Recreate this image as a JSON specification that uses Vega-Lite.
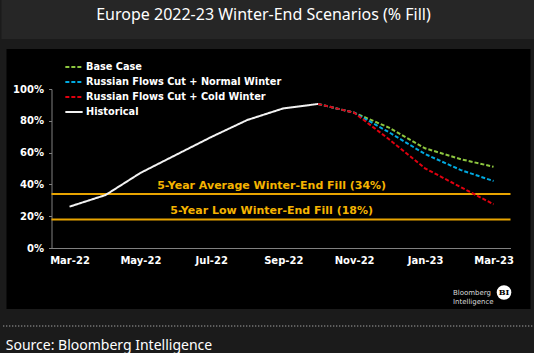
{
  "$schema": "https://vega.github.io/schema/vega-lite/v6.json",
  "background": "#1b1b1b",
  "padding": 0,
  "spacing": 10,
  "center": true,
  "config": {"view": {"stroke": null}, "font": "DejaVu Sans"},
  "title": {"text": "Source: Bloomberg Intelligence", "orient": "bottom", "anchor": "start", "frame": "bounds", "dx": 5, "offset": 10, "font": "Noto Sans", "fontSize": 14, "fontWeight": "normal", "color": "#ffffff"},
  "vconcat": [
    {
      "width": 534, "height": 39,
      "view": {"fill": "#262626", "stroke": null},
      "data": {"values": [{"t": "Europe 2022-23 Winter-End Scenarios (% Fill)"}]},
      "mark": {"type": "text", "font": "Noto Sans", "fontSize": 16, "color": "#ffffff", "baseline": "middle", "align": "center", "dx": -5, "dy": -4.5},
      "encoding": {"text": {"field": "t"}}
    },
    {
      "width": 524, "height": 260,
      "view": {"fill": "#000000", "stroke": null},
      "layer": [
        {
          "data": {"values": [
            {"name": "5-Year Average Winter-End Fill (34%)", "value": 34},
            {"name": "5-Year Low Winter-End Fill (18%)", "value": 18}
          ]},
          "mark": {"type": "rule", "color": "#E8A400", "strokeWidth": 2},
          "encoding": {
            "x": {"datum": {"year": 2022, "month": 2, "date": 13, "hours": 12}, "type": "temporal"},
            "x2": {"datum": {"year": 2023, "month": 3, "date": 15, "hours": 14}},
            "y": {"field": "value", "type": "quantitative"}
          }
        },
        {
          "data": {"values": [
            {"name": "5-Year Average Winter-End Fill (34%)", "value": 34},
            {"name": "5-Year Low Winter-End Fill (18%)", "value": 18}
          ]},
          "mark": {"type": "text", "color": "#F5B400", "fontSize": 11, "fontWeight": "bold", "font": "DejaVu Sans", "baseline": "alphabetic", "align": "center", "dy": -5},
          "encoding": {
            "x": {"datum": {"year": 2022, "month": 8, "date": 22}, "type": "temporal"},
            "y": {"field": "value", "type": "quantitative"},
            "text": {"field": "name"}
          }
        },
        {
          "data": {"values": [
            {"date": "2022-03-01T00:00:00", "value": 26, "series": "Historical"},
            {"date": "2022-04-01T00:00:00", "value": 33.3, "series": "Historical"},
            {"date": "2022-05-01T00:00:00", "value": 47.2, "series": "Historical"},
            {"date": "2022-06-01T00:00:00", "value": 58.7, "series": "Historical"},
            {"date": "2022-07-01T00:00:00", "value": 69.8, "series": "Historical"},
            {"date": "2022-08-01T00:00:00", "value": 80.5, "series": "Historical"},
            {"date": "2022-09-01T00:00:00", "value": 87.8, "series": "Historical"},
            {"date": "2022-10-01T00:00:00", "value": 90.6, "series": "Historical"},
            {"date": "2022-10-01T00:00:00", "value": 90.6, "series": "Base Case"},
            {"date": "2022-11-01T00:00:00", "value": 85.1, "series": "Base Case"},
            {"date": "2022-12-01T00:00:00", "value": 75.7, "series": "Base Case"},
            {"date": "2023-01-01T00:00:00", "value": 62.7, "series": "Base Case"},
            {"date": "2023-02-01T00:00:00", "value": 55.8, "series": "Base Case"},
            {"date": "2023-03-01T00:00:00", "value": 51.1, "series": "Base Case"},
            {"date": "2022-10-01T00:00:00", "value": 90.6, "series": "Russian Flows Cut + Normal Winter"},
            {"date": "2022-11-01T00:00:00", "value": 85.1, "series": "Russian Flows Cut + Normal Winter"},
            {"date": "2022-12-01T00:00:00", "value": 72.8, "series": "Russian Flows Cut + Normal Winter"},
            {"date": "2023-01-01T00:00:00", "value": 59.1, "series": "Russian Flows Cut + Normal Winter"},
            {"date": "2023-02-01T00:00:00", "value": 49.0, "series": "Russian Flows Cut + Normal Winter"},
            {"date": "2023-03-01T00:00:00", "value": 42.1, "series": "Russian Flows Cut + Normal Winter"},
            {"date": "2022-10-01T00:00:00", "value": 90.6, "series": "Russian Flows Cut + Cold Winter"},
            {"date": "2022-11-01T00:00:00", "value": 85.1, "series": "Russian Flows Cut + Cold Winter"},
            {"date": "2022-12-01T00:00:00", "value": 68.4, "series": "Russian Flows Cut + Cold Winter"},
            {"date": "2023-01-01T00:00:00", "value": 50.1, "series": "Russian Flows Cut + Cold Winter"},
            {"date": "2023-02-01T00:00:00", "value": 38.2, "series": "Russian Flows Cut + Cold Winter"},
            {"date": "2023-03-01T00:00:00", "value": 27.5, "series": "Russian Flows Cut + Cold Winter"}
          ]},
          "mark": {"type": "line", "strokeWidth": 2},
          "encoding": {
            "x": {
              "field": "date", "type": "temporal",
              "scale": {"domain": [{"year": 2022, "month": 2, "date": 13, "hours": 12}, {"year": 2023, "month": 3, "date": 15, "hours": 14}], "range": [45, 504]},
              "axis": {
                "values": [
                  {"year": 2022, "month": 3, "date": 1},
                  {"year": 2022, "month": 5, "date": 1},
                  {"year": 2022, "month": 7, "date": 1},
                  {"year": 2022, "month": 9, "date": 1},
                  {"year": 2022, "month": 11, "date": 1},
                  {"year": 2023, "month": 1, "date": 1},
                  {"year": 2023, "month": 3, "date": 1}
                ],
                "format": "%b-%y", "title": null, "grid": false, "ticks": false,
                "offset": -61, "labelPadding": 7,
                "labelColor": "#ffffff", "labelFont": "DejaVu Sans", "labelFontWeight": "bold", "labelFontSize": 10,
                "domainColor": "#808080", "domainWidth": 1, "labelOverlap": false
              }
            },
            "y": {
              "field": "value", "type": "quantitative",
              "scale": {"domain": [0, 100], "range": [199, 40], "nice": false, "zero": false},
              "axis": {
                "values": [0, 20, 40, 60, 80, 100],
                "labelExpr": "datum.value + '%'",
                "title": null, "grid": false, "tickSize": 3, "tickColor": "#808080",
                "offset": -45, "labelPadding": 5,
                "labelColor": "#ffffff", "labelFont": "DejaVu Sans", "labelFontWeight": "bold", "labelFontSize": 10,
                "domainColor": "#808080", "domainWidth": 1
              }
            },
            "color": {
              "field": "series", "type": "nominal",
              "scale": {"domain": ["Base Case", "Russian Flows Cut + Normal Winter", "Russian Flows Cut + Cold Winter", "Historical"], "range": ["#8DC63F", "#00A9E0", "#E0000F", "#F2F2F2"]},
              "legend": {"orient": "none", "legendX": 63, "legendY": 57, "title": null, "symbolType": "stroke", "symbolSize": 300, "symbolStrokeWidth": 2, "labelColor": "#ffffff", "labelFont": "DejaVu Sans", "labelFontWeight": "bold", "labelFontSize": 9.75, "labelOffset": 2, "labelLimit": 400, "rowPadding": -0.3, "padding": 0}
            },
            "strokeDash": {
              "field": "series", "type": "nominal",
              "scale": {"domain": ["Base Case", "Russian Flows Cut + Normal Winter", "Russian Flows Cut + Cold Winter", "Historical"], "range": [[4, 2], [4, 2], [4, 2], [1, 0]]},
              "legend": {"orient": "none", "legendX": 63, "legendY": 57, "title": null, "symbolType": "stroke", "symbolSize": 300, "symbolStrokeWidth": 2, "labelColor": "#ffffff", "labelFont": "DejaVu Sans", "labelFontWeight": "bold", "labelFontSize": 9.75, "labelOffset": 2, "labelLimit": 400, "rowPadding": -0.3, "padding": 0}
            }
          }
        },
        {
          "data": {"values": [{"t": "logo"}]},
          "mark": {"type": "text", "text": ["Bloomberg", "Intelligence"], "align": "left", "baseline": "middle", "fontSize": 7, "lineHeight": 9, "color": "#d9d9d9", "font": "DejaVu Sans"},
          "encoding": {
            "x": {"datum": {"year": 2023, "month": 1, "date": 25}, "type": "temporal"},
            "y": {"datum": -28, "type": "quantitative"}
          }
        },
        {
          "data": {"values": [{"t": "logo"}]},
          "mark": {"type": "point", "shape": "circle", "filled": true, "color": "#ffffff", "opacity": 1, "size": 213},
          "encoding": {
            "x": {"datum": {"year": 2023, "month": 3, "date": 10}, "type": "temporal"},
            "y": {"datum": -28, "type": "quantitative"}
          }
        },
        {
          "data": {"values": [{"t": "BI"}]},
          "mark": {"type": "text", "align": "center", "baseline": "middle", "fontSize": 8, "fontWeight": "bold", "color": "#000000", "font": "DejaVu Serif"},
          "encoding": {
            "x": {"datum": {"year": 2023, "month": 3, "date": 10}, "type": "temporal"},
            "y": {"datum": -28, "type": "quantitative"},
            "text": {"field": "t"}
          }
        }
      ]
    },
    {
      "width": 534, "height": 10,
      "data": {"values": [{"t": "separator"}]},
      "mark": {"type": "rule", "color": "#d0d0d0", "strokeDash": [1, 2], "strokeWidth": 1},
      "encoding": {"y": {"datum": 0.3, "type": "quantitative", "scale": {"domain": [0, 1]}, "axis": null}}
    }
  ]
}
